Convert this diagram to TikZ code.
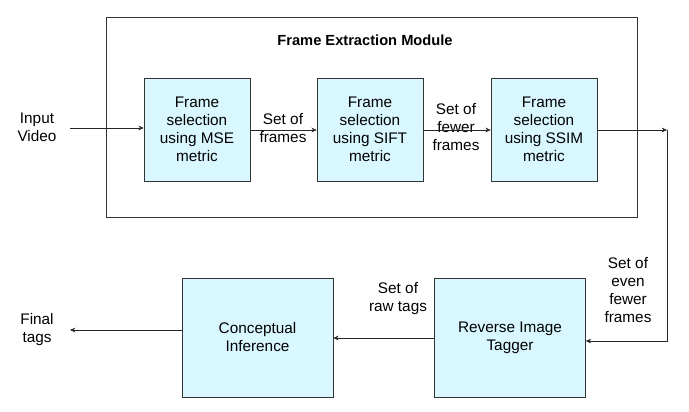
\documentclass[tikz,border=0pt]{standalone}
\usepackage{fontspec}
\setmainfont{Liberation Sans}
\usetikzlibrary{arrows.meta}
\begin{document}
\begin{tikzpicture}[x=0.75pt,y=-0.75pt,font=\fontsize{11.5}{13.5}\selectfont,
	stage/.style={draw=black!80, fill=blue!20!cyan!15!white, align=center, minimum width=106*0.75pt, minimum height=103*0.75pt, inner sep=1pt},
	wide/.style={stage, minimum width=151*0.75pt, minimum height=119*0.75pt},
	lbl/.style={align=center, inner sep=1pt},
	flow/.style={-{Stealth[length=4pt,width=3.5pt]}, black!85}]
	% bounding box
	\useasboundingbox (0,0) rectangle (689,411);

	% 1. frame extraction module
	\node[draw=black!80, minimum width=531*0.75pt, minimum height=200*0.75pt] (module) at (371.5,117) {};
	\node[font=\fontsize{11}{13}\selectfont\bfseries] (title) at (365,40) {Frame Extraction Module};

	\node[stage] (mse)  at (197,129.5) {Frame\\selection\\using MSE\\metric};
	\node[stage] (sift) at (370,129.5) {Frame\\selection\\using SIFT\\metric};
	\node[stage] (ssim) at (544,129.5) {Frame\\selection\\using SSIM\\metric};

	% 2. lower row
	\node[wide] (tagger)  at (510,337.5) {Reverse Image\\Tagger};
	\node[wide] (concept) at (257.5,337.5) {Conceptual\\Inference};

	% 3. free texts
	\node[lbl] (input) at (37,127) {Input\\Video};
	\node[lbl] (final) at (37,330) {Final\\tags};
	\node[lbl] (t1) at (283,128) {Set of\\frames};
	\node[lbl] (t2) at (456,127) {Set of\\fewer\\frames};
	\node[lbl] (t3) at (628,290) {Set of\\even\\fewer\\frames};
	\node[lbl] (t4) at (398,299) {Set of\\raw tags};

	\coordinate (inEnd) at (70,128);
	\coordinate (outTurn) at (667,130);
	\coordinate (outDown) at (667,341);
	\coordinate (finEnd) at (70,330);

	% 4. connectors
	\draw[flow] (inEnd) -- (mse.west |- inEnd);
	\draw[flow] (mse.east |- outTurn) -- (sift.west |- outTurn);
	\draw[flow] (sift.east |- outTurn) -- (ssim.west |- outTurn);
	\draw[flow] (ssim.east |- outTurn) -- (outTurn);
	\draw[flow] (outTurn) -- (outDown) -- (tagger.east |- outDown);
	\draw[flow] (tagger.west |- 0,338) -- (concept.east |- 0,338);
	\draw[flow] (concept.west |- finEnd) -- (finEnd);
\end{tikzpicture}
\end{document}
